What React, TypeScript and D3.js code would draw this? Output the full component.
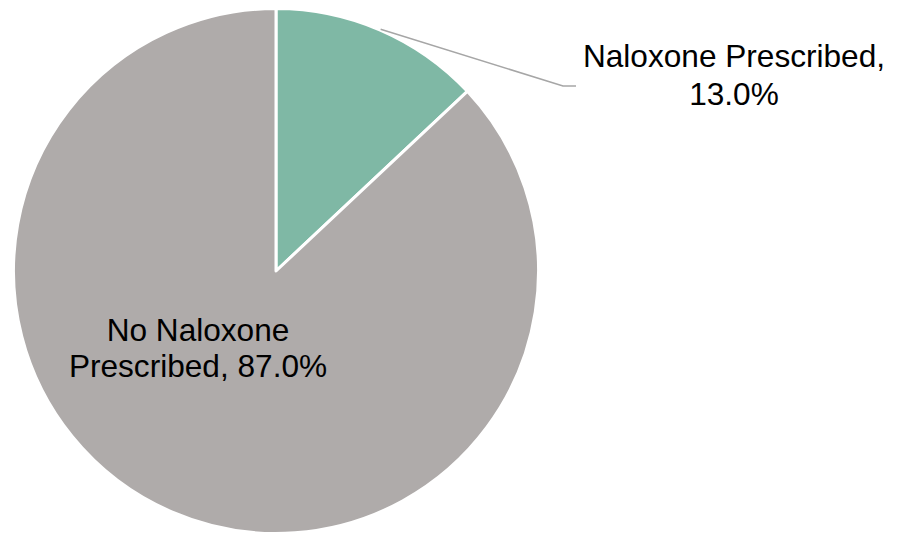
import React from "react";
import * as d3 from "d3";

const categories = ["Naloxone Prescribed", "No Naloxone Prescribed"];
const values = [13.0, 87.0];
const colors = ["#7FB8A5", "#AFABAA"];

const W = 899;
const H = 539;
const cx = 276;
const cy = 271;
const R = 262.5;

export default function App() {
  const pie = d3
    .pie<number>()
    .sort(null)
    .value((d) => d)
    .startAngle(0)
    .endAngle(2 * Math.PI);
  const arcs = pie(values);
  const arc = d3.arc<d3.PieArcDatum<number>>().innerRadius(0).outerRadius(R);

  const green = arcs[0];
  const mid = (green.startAngle + green.endAngle) / 2;
  const sx = Math.sin(mid) * (R + 1);
  const sy = -Math.cos(mid) * (R + 1);
  const elbowX = 287;
  const elbowY = -185;
  const endX = 300;

  const fontFamily = "'Liberation Sans', Arial, sans-serif";
  const fs = 31.6;

  return (
    <svg
      width={W}
      height={H}
      style={{ position: "absolute", left: 0, top: 0 }}
      viewBox={`0 0 ${W} ${H}`}
    >
      <rect width={W} height={H} fill="#ffffff" />
      <g transform={`translate(${cx},${cy})`}>
        {arcs.map((a, i) => (
          <path
            key={categories[i]}
            d={arc(a) || ""}
            fill={colors[i]}
            stroke="#ffffff"
            strokeWidth={3}
            strokeLinejoin="round"
          />
        ))}
        <polyline
          points={`${sx},${sy} ${elbowX},${elbowY} ${endX},${elbowY}`}
          fill="none"
          stroke="#A6A6A6"
          strokeWidth={1.5}
        />
      </g>
      <text
        x={734}
        y={67}
        textAnchor="middle"
        fontFamily={fontFamily}
        fontSize={fs}
        fill="#000"
      >
        <tspan x={734}>{categories[0]},</tspan>
        <tspan x={734} dy={37.5}>
          {values[0].toFixed(1)}%
        </tspan>
      </text>
      <text
        x={198}
        y={341}
        textAnchor="middle"
        fontFamily={fontFamily}
        fontSize={fs}
        fill="#000"
      >
        <tspan x={198}>No Naloxone</tspan>
        <tspan x={198} dy={36}>
          Prescribed, {values[1].toFixed(1)}%
        </tspan>
      </text>
    </svg>
  );
}
